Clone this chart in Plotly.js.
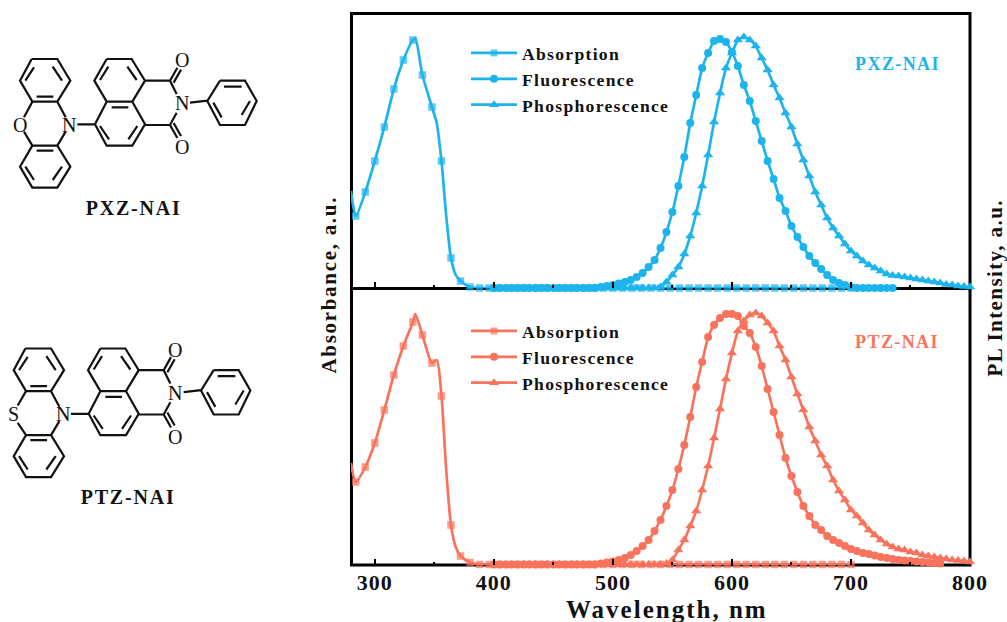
<!DOCTYPE html>
<html>
<head>
<meta charset="utf-8">
<script src="https://cdn.plot.ly/plotly-3.0.1.min.js"></script>
<style>
html,body{margin:0;padding:0;background:#fff}
.legendtext,.legend2text{letter-spacing:1.3px}
.annotation[data-index="0"] text{letter-spacing:1.7px}
.annotation[data-index="1"] text{letter-spacing:1.4px}
.annotation[data-index="2"] text,.annotation[data-index="3"] text{letter-spacing:1.4px}
.annotation[data-index="4"] text,.annotation[data-index="5"] text{letter-spacing:1.8px}
.annotation[data-index="6"] text{letter-spacing:2px}
.x2tick text{letter-spacing:1px}
</style>
</head>
<body>
<div id="chart" style="width:1007px;height:622px"></div>
<script>
// ---------- data (arbitrary units) ----------
const absWavelength = [280,284,292,300,308,316,324,332,334,340,348,352,356,360,364,368,372,380,388,396,404,412,420,428,436,444,452,460,468,476,484,492,500,508,516,524,532,540,548,556,564,572,580,588,596,604,612,620,628,636,644,652,660,668,676,684,692,700];
const absMarked     = [0,1,1,1,1,1,1,1,0,1,1,0,1,0,1,0,1,1,1,1,1,1,1,1,1,1,1,1,1,1,1,1,1,1,1,1,1,1,1,1,1,1,1,1,1,1,1,1,1,1,1,1,1,1,1,1,1,1];
const wavelength5 = [400,405,410,415,420,425,430,435,440,445,450,455,460,465,470,475,480,485,490,495,500,505,510,515,520,525,530,535,540,545,550,555,560,565,570,575,580,585,590,595,600,605,610,615,620,625,630,635,640,645,650,655,660,665,670,675,680,685,690,695,700,705,710,715,720,725,730,735,740,745,750,755,760,765,770,775,780,785,790,795,800];

const pxzAbs  = [97,72,96,127,161,199,228,248,250,213,181,165,127,72,30,13,7,1,0,0,0,0,0,0,0,0,0,0,0,0,0,0,0,0,0,0,0,0,0,0,0,0,0,0,0,0,0,0,0,0,0,0,0,0,0,0,0,0];
const pxzFluo = [0,0,0,0,0,0,0,0,0,0,0,0,0,0,0,0,0,0,1,2,3,4.5,6,8,11,15,21,28,40,56,76,102,131,165,193,220,235,247,249,246,236,222,203,187,167,147,127,109,90,77,62,51,41,32,25,19,13,8,5,3,1,0,0,0,0,0,0,0];
const pxzPhos = [0,0,0,0,0,0,0,0,0,0,0,0,0,0,0,0,0,0,0,0,0,0,0,0,0,0,0,0,1,6,13,21,34,52,75,102,133,166,195,220,235,248,251,248,242,230,218,203,190,175,161,144,128,112,96,83,70,60,52,44,37,32,27,23,20,17,14,12.5,12,11,10,9,8,7,6,5,3.5,3,2,1.5,1];

const ptzAbs  = [102,83,98,122,155,190,219,243,251,230,202,205,169,95,40,18,9,2.5,0.5,0.5,0.5,0.5,0.5,0.5,0.5,0.5,0.5,0.5,0.5,0.5,0.5,0.5,0.5,0.5,0.5,0.5,0.5,0.5,0.5,0.5,0.5,0.5,0.5,0.5,0.5,0.5,0.5,0.5,0.5,0.5,0.5,0.5,0.5,0.5,0.5,0.5,0.5,0.5];
const ptzFluo = [0.5,0.5,0.5,0.5,0.5,0.5,0.5,0.5,0.5,0.5,0.5,0.5,0.5,0.5,0.5,0.5,0.5,0.5,1.5,2.5,3.5,5,7,10,14,19,25,34,45,59,75,96,120,148,178,203,228,240,247,251,251,249,239,232,218,199,176,153,130,107,89,73,59,49,40,35,29,25,22,19,16,14,12,11,9.5,8,7,6,5,4.5,4,3.5,3,2.5,2,1.5];
const ptzPhos = [0.5,0.5,0.5,0.5,0.5,0.5,0.5,0.5,0.5,0.5,0.5,0.5,0.5,0.5,0.5,0.5,0.5,0.5,0.5,0.5,0.5,0.5,0.5,0.5,0.5,0.5,0.5,0.5,0.5,1.5,5,15,25,39,54,75,99,127,156,186,212,234,244,250,252,249,242,234,219,205,188,171,155,138,124,110,99,85,74,65,55,49,42,35,30,25,21,18,16,15,13,12,10,9,8,7,6,5,4.5,4,3];

const xTicks = [300,400,500,600,700,800];
const xMinor = [350,450,550,650,750];
const seriesNames = ['Absorption','Fluorescence','Phosphorescence'];
const blue = '#1db4ee';
const coral = '#f9735c';

// ---------- canvas helpers ----------
const W = 1007, H = 622;
const px = v => v / W, py = v => 1 - v / H;
const serif = 'Liberation Serif, Times New Roman, serif';

function curve(name, x, y, color, symbol, size, xa, ya, legend, smooth){
  return {type:'scatter', mode:'lines+markers', name, x, y, xaxis:xa, yaxis:ya, legend,
    cliponaxis:false,
    line:{color, width:2.7, shape:'spline', smoothing:smooth},
    marker:{symbol, size, color, line:{width:0}}};
}
const absSizes = absMarked.map(m => m ? 7.5 : 0);
const traces = [
  curve(seriesNames[0], absWavelength, pxzAbs, blue, 'square', absSizes, 'x', 'y', 'legend', 0.7),
  curve(seriesNames[1], wavelength5, pxzFluo, blue, 'circle', 8, 'x', 'y', 'legend', 0.4),
  curve(seriesNames[2], wavelength5, pxzPhos, blue, 'triangle-up', 9, 'x', 'y', 'legend', 0.4),
  curve(seriesNames[0], absWavelength, ptzAbs, coral, 'square', absSizes, 'x2', 'y2', 'legend2', 0.7),
  curve(seriesNames[1], wavelength5, ptzFluo, coral, 'circle', 8, 'x2', 'y2', 'legend2', 0.4),
  curve(seriesNames[2], wavelength5, ptzPhos, coral, 'triangle-up', 9, 'x2', 'y2', 'legend2', 0.4)
];

// ---------- molecule skeleton (shared by both structures) ----------
const skeleton = [
  [[95,87],[172,87],[211,152],[172,215],[97,215],[60,152],[95,87]],
  [[97,347],[172,347],[211,410],[172,473],[97,473],[60,410],[97,347]],
  [[102,112],[76,152]],[[158,110],[186,152]],[[110,200],[160,200]],
  [[110,362],[160,362]],[[76,410],[102,450]],[[186,410],[158,450]],
  [[172,215],[197,262]],[[172,347],[197,305]],
  [[232,283],[285,283]],
  [[320,87],[395,87],[435,152],[397,215],[320,215],[283,152],[320,87]],
  [[320,215],[285,283],[320,347],[397,347],[435,283],[397,215]],
  [[325,110],[300,150]],[[382,110],[410,150]],[[335,232],[385,232]],
  [[300,288],[327,328]],[[412,288],[385,328]],
  [[435,152],[510,152],[530,192]],[[435,285],[510,285],[530,248]],
  [[510,152],[532,113]],[[521,158],[543,119]],
  [[510,285],[532,324]],[[521,279],[543,318]],
  [[570,218],[622,212]],
  [[660,152],[735,152],[770,213],[735,285],[660,285],[622,213],[660,152]],
  [[672,170],[725,170]],[[750,213],[725,255]],[[640,218],[665,262]]
];
const bondsOxygen = [[[97,215],[72,262]],[[97,347],[72,305]]];
const bondsSulfur = [[[97,215],[72,258]],[[97,347],[72,310]]];

function moleculePath(segs, ox, oy){
  return segs.map(s => s.map((p,i) => (i?'L':'M') + px(p[0]/3+ox).toFixed(5) + ',' + py(p[1]/3+oy).toFixed(5)).join(' ')).join(' ');
}
function molShape(segs, ox, oy){
  return {type:'path', xref:'paper', yref:'paper', path:moleculePath(segs, ox, oy),
    line:{color:'#111', width:2.2}, layer:'above'};
}
function frame(left, top, right, bottom){
  return {type:'rect', xref:'paper', yref:'paper', x0:px(left), x1:px(right), y0:py(bottom), y1:py(top),
    line:{color:'#000', width:3}, layer:'below'};
}
function label(text, x, y, size, color, angle, bold){
  return {xref:'paper', yref:'paper', x:px(x), y:py(y), text, showarrow:false,
    xanchor:'center', yanchor:'middle', textangle:angle||0,
    font:{family:serif, size, color, weight:bold===false?400:700}};
}
const atoms = (ox, oy, sym) => [
  label(sym, 60/3+ox, 285/3+oy, 20, '#111', 0, false),
  label('N', 208/3+ox, 285/3+oy, 20, '#111', 0, false),
  label('O', 545/3+ox, 90/3+oy, 20, '#111', 0, false),
  label('O', 545/3+ox, 352/3+oy, 20, '#111', 0, false),
  label('N', 545/3+ox, 220/3+oy, 20, '#111', 0, false)
];

const axisFrame = {showline:false, zeroline:false, showgrid:false};
function xAxis(extra){
  return Object.assign({}, axisFrame, {range:[280,800], domain:[px(351),px(970)], tickmode:'array', tickvals:xTicks,
    ticks:'inside', ticklen:6, tickwidth:2, tickcolor:'#000',
    minor:{tickmode:'array', tickvals:xMinor, ticks:'inside', ticklen:3, tickwidth:2, tickcolor:'#000'}}, extra);
}
function legendAt(top){
  return {x:px(466), y:py(top), xanchor:'left', yanchor:'top', bgcolor:'rgba(0,0,0,0)', borderwidth:0,
    itemwidth:46, tracegroupgap:0, font:{family:serif, size:17.6, color:'#111', weight:700}};
}

const layout = {
  width:W, height:H, autosize:false, paper_bgcolor:'#fff', plot_bgcolor:'rgba(0,0,0,0)',
  margin:{l:0,r:0,t:0,b:0,pad:0},
  showlegend:true,
  xaxis:xAxis({anchor:'y', showticklabels:false}),
  yaxis:Object.assign({}, axisFrame, {range:[0,275], domain:[py(288),py(13)], anchor:'x', showticklabels:false, ticks:''}),
  xaxis2:xAxis({anchor:'y2', showticklabels:true, ticklabelstandoff:2, tickfont:{family:serif,size:22,color:'#111',weight:700}}),
  yaxis2:Object.assign({}, axisFrame, {range:[0,277], domain:[py(565),py(288)], anchor:'x2', showticklabels:false, ticks:''}),
  legend:legendAt(35),
  legend2:legendAt(313),
  shapes:[
    frame(351.5, 13.5, 970, 288.5),
    frame(351.5, 288.5, 970, 565),
    molShape(skeleton.concat(bondsOxygen), 0, 30),
    molShape(skeleton.concat(bondsSulfur), -6.3, 319.5)
  ],
  annotations:[
    label('Absorbance, a.u.', 329, 285, 21, '#111', -90),
    label('PL Intensity, a.u.', 995, 288, 21, '#111', -90),
    label('PXZ-NAI', 897, 64, 18, blue),
    label('PTZ-NAI', 897, 342, 18, coral),
    label('PXZ-NAI', 134, 208, 20, '#111'),
    label('PTZ-NAI', 128, 497, 20, '#111'),
    label('Wavelength, nm', 667, 609, 25, '#111')
  ].concat(atoms(0,30,'O'), atoms(-6.3,319.5,'S'))
};

Plotly.newPlot('chart', traces, layout, {displayModeBar:false, responsive:false});
</script>
</body>
</html>
